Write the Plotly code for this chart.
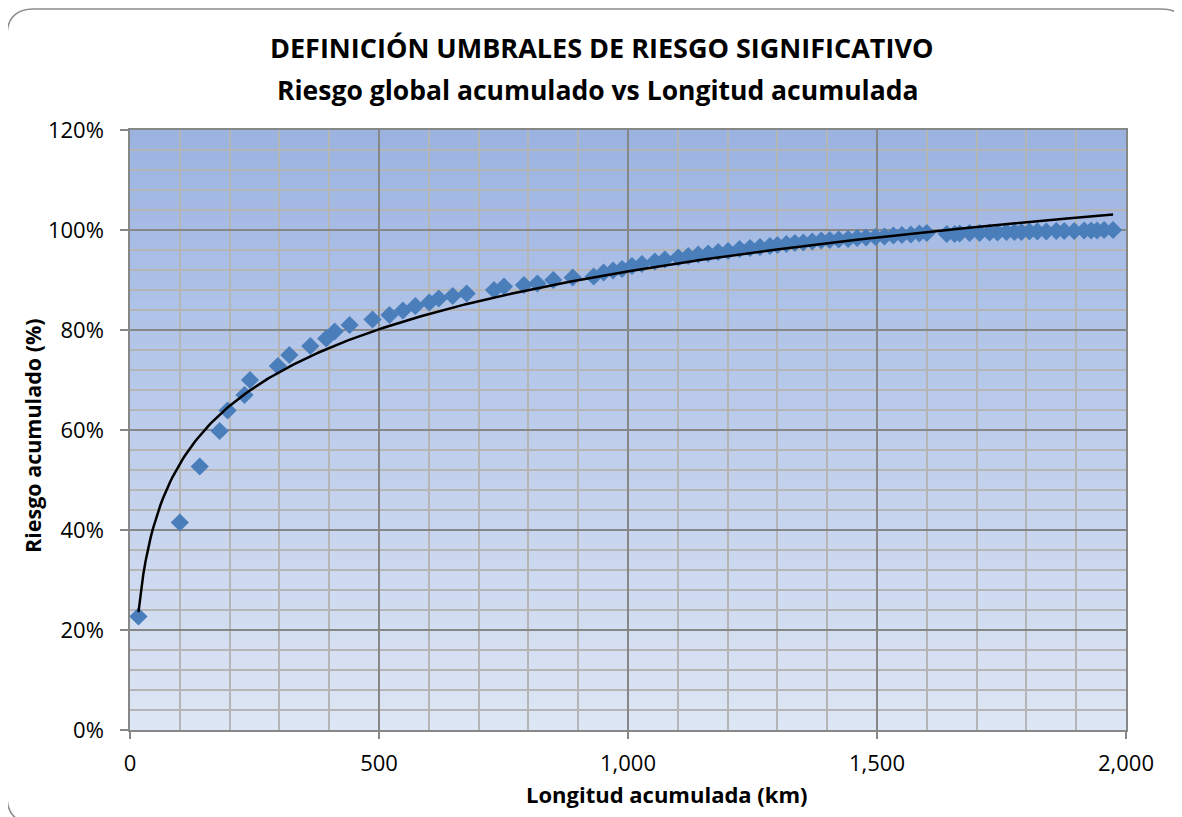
import numpy as np
import plotly.graph_objects as go

# ---- data ----
longitud_km = [17, 100, 140, 180, 196, 230, 241, 297, 320, 362, 394, 411, 441, 487,
               521, 548, 573, 601, 620, 648, 676, 731, 751, 791, 818, 850, 889, 931,
               951, 970, 988, 1008, 1028, 1054, 1074, 1101, 1121, 1141, 1161, 1181,
               1201, 1224, 1245, 1265, 1285, 1300, 1318, 1335, 1352, 1370, 1388, 1405,
               1423, 1442, 1460, 1478, 1497, 1515, 1533, 1550, 1568, 1585, 1600, 1640,
               1656, 1666, 1686, 1706, 1726, 1742, 1760, 1776, 1790, 1806, 1822, 1840,
               1860, 1876, 1896, 1916, 1930, 1942, 1956, 1974]
riesgo_pct = [22.7, 41.5, 52.7, 59.8, 63.9, 67.0, 70.0, 72.8, 75.0, 76.8, 78.3, 79.7, 81.0, 82.1,
              83.0, 83.9, 84.8, 85.5, 86.3, 86.8, 87.3, 88.0, 88.7, 89.0, 89.3, 90.0, 90.5, 90.7,
              91.5, 91.9, 92.2, 92.8, 93.2, 93.7, 94.1, 94.5, 94.8, 95.1, 95.3, 95.6,
              95.8, 96.2, 96.4, 96.6, 96.8, 97.0, 97.2, 97.4, 97.5, 97.7, 97.9, 98.0,
              98.1, 98.2, 98.4, 98.5, 98.6, 98.7, 98.9, 99.0, 99.1, 99.3, 99.4, 99.2,
              99.2, 99.3, 99.4, 99.4, 99.5, 99.5, 99.6, 99.6, 99.6, 99.7, 99.7, 99.7,
              99.8, 99.8, 99.8, 99.9, 99.9, 99.9, 100.0, 100.0]
x_ticks = [0, 500, 1000, 1500, 2000]
x_tick_text = ["0", "500", "1,000", "1,500", "2,000"]
y_ticks = [0, 20, 40, 60, 80, 100, 120]
y_tick_text = ["0%", "20%", "40%", "60%", "80%", "100%", "120%"]

title_l1 = "DEFINICIÓN UMBRALES DE RIESGO SIGNIFICATIVO"
title_l2 = "Riesgo global acumulado vs Longitud acumulada"
x_title = "Longitud acumulada (km)"
y_title = "Riesgo acumulado (%)"

# logarithmic trendline (least squares on ln x), as Excel does
xa = np.array(longitud_km, dtype=float)
ya = np.array(riesgo_pct, dtype=float)
a, b = np.polyfit(np.log(xa), ya, 1)
xt = np.linspace(xa.min(), xa.max(), 400)
yt = a * np.log(xt) + b

FONT = "Open Sans"
OFF = 8                      # page body margin
W, H = 1182 - OFF, 817 - OFF
L, R, T, B = 130 - OFF, 1126 - OFF, 130 - OFF, 730 - OFF  # plot area in figure px

fig = go.Figure()
fig.add_trace(go.Scatter(x=longitud_km, y=riesgo_pct, mode="markers",
                         marker=dict(symbol="diamond", size=14, color="#4A7EBB",
                                     line=dict(width=0)),
                         showlegend=False))
fig.add_trace(go.Scatter(x=xt, y=yt, mode="lines",
                         line=dict(color="black", width=2.5),
                         hoverinfo="skip", showlegend=False))

shapes = []
# vertical gradient background of plot area
n = 60
top = np.array([155, 179, 226])
bot = np.array([222, 230, 244])
for i in range(n):
    t = (i + 0.5) / n
    c = bot + (top - bot) * t
    shapes.append(dict(type="rect", xref="paper", yref="paper",
                       x0=0, x1=1, y0=i / n, y1=(i + 1) / n,
                       fillcolor="rgb(%d,%d,%d)" % tuple(c.round().astype(int)),
                       line=dict(width=0), layer="below"))

# page px -> paper
def px(xp):
    return (xp - OFF - L) / (R - L)

def py(yp):
    return (B - (yp - OFF)) / (B - T)

x0b, x1b, y0b, y1b, r = 7, 1188, 9, 823, 27
path = (f"M {px(x0b + r)} {py(y0b)} L {px(x1b - r)} {py(y0b)} "
        f"Q {px(x1b)} {py(y0b)} {px(x1b)} {py(y0b + r)} "
        f"L {px(x1b)} {py(y1b - r)} "
        f"Q {px(x1b)} {py(y1b)} {px(x1b - r)} {py(y1b)} "
        f"L {px(x0b + r)} {py(y1b)} "
        f"Q {px(x0b)} {py(y1b)} {px(x0b)} {py(y1b - r)} "
        f"L {px(x0b)} {py(y0b + r)} "
        f"Q {px(x0b)} {py(y0b)} {px(x0b + r)} {py(y0b)} Z")
shapes.append(dict(type="path", xref="paper", yref="paper", path=path,
                   line=dict(color="#8C8C8C", width=1.5), layer="above"))

annotations = [
    dict(text=f"<b>{title_l1}</b>", x=px(601), y=py(48), xref="paper", yref="paper",
         showarrow=False, font=dict(family=FONT, size=27, color="black"),
         xanchor="center", yanchor="middle"),
    dict(text=f"<b>{title_l2}</b>", x=px(597), y=py(90), xref="paper", yref="paper",
         showarrow=False, font=dict(family=FONT, size=26.5, color="black"),
         xanchor="center", yanchor="middle"),
    dict(text=f"<b>{x_title}</b>", x=px(667), y=py(794), xref="paper", yref="paper",
         showarrow=False, font=dict(family=FONT, size=22, color="black"),
         xanchor="center", yanchor="middle"),
    dict(text=f"<b>{y_title}</b>", x=px(32), y=py(436), xref="paper", yref="paper",
         showarrow=False, font=dict(family=FONT, size=21.5, color="black"),
         xanchor="center", yanchor="middle", textangle=-90),
]

fig.update_layout(
    width=W, height=H,
    margin=dict(l=L, r=W - R, t=T, b=H - B, pad=0),
    paper_bgcolor="white", plot_bgcolor="rgba(0,0,0,0)",
    shapes=shapes, annotations=annotations,
    font=dict(family=FONT, size=20, color="black"),
)
fig.update_xaxes(range=[0, 2000], tickvals=x_ticks, ticktext=x_tick_text,
                 showgrid=True, gridcolor="#878787", gridwidth=1.5,
                 minor=dict(dtick=100, showgrid=True, gridcolor="#B5B5B5", gridwidth=1.5),
                 showline=True, linecolor="#878787", linewidth=1.5, mirror=True,
                 ticks="outside", ticklen=7, tickcolor="#878787", tickwidth=1.5,
                 ticklabelstandoff=6,
                 zeroline=False, tickfont=dict(family=FONT, size=22), fixedrange=True)
fig.update_yaxes(range=[0, 120], tickvals=y_ticks, ticktext=y_tick_text,
                 showgrid=True, gridcolor="#878787", gridwidth=1.5,
                 minor=dict(dtick=4, showgrid=True, gridcolor="#B5B5B5", gridwidth=1.5),
                 showline=True, linecolor="#878787", linewidth=1.5, mirror=True,
                 ticks="outside", ticklen=8, tickcolor="#878787", tickwidth=1.5,
                 ticklabelstandoff=12,
                 zeroline=False, tickfont=dict(family=FONT, size=22), fixedrange=True)

fig.write_html("out.html")
